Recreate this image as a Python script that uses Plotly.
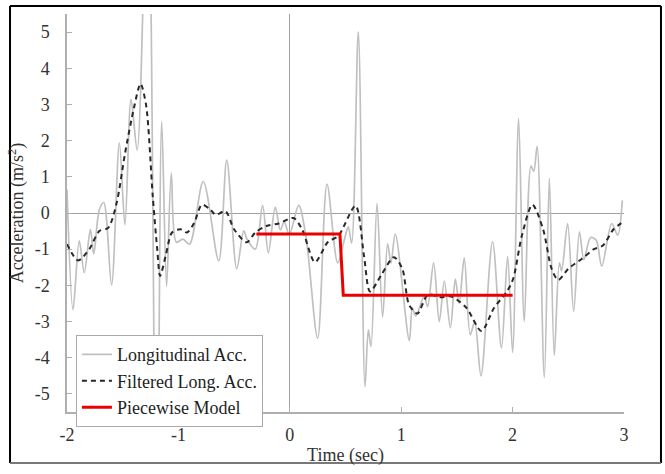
import plotly.graph_objects as go

# Raw longitudinal acceleration (sec, m/s^2)
raw_t = [-2.0, -1.946, -1.89, -1.845, -1.79, -1.76, -1.71, -1.67, -1.60, -1.53,
         -1.48, -1.425, -1.37, -1.275, -1.195, -1.15, -1.106, -1.064, -1.018, -0.96,
         -0.90, -0.777, -0.638, -0.566, -0.476, -0.414, -0.385, -0.31, -0.244, -0.193,
         -0.13, -0.085, -0.05, -0.005, 0.08, 0.145, 0.25, 0.334, 0.43, 0.49,
         0.525, 0.555, 0.615, 0.675, 0.705, 0.729, 0.783, 0.833, 0.878, 0.908,
         0.947, 1.073, 1.10, 1.13, 1.207, 1.237, 1.291, 1.342, 1.387, 1.441,
         1.486, 1.52, 1.566, 1.62, 1.66, 1.716, 1.82, 1.90, 1.955, 2.0,
         2.054, 2.105, 2.165, 2.19, 2.22, 2.285, 2.33, 2.374, 2.42, 2.44,
         2.494, 2.548, 2.60, 2.64, 2.70, 2.75, 2.80, 2.89, 2.943, 2.985]
raw_a = [0.65, -2.67, -0.77, -1.65, -0.45, -1.13, 0.09, 0.29, -1.99, 1.94,
         -0.33, 3.14, 1.74, 10.0, -10.0, 2.53, -2.03, 1.1, -0.81, -0.72,
         -0.86, 0.87, -1.32, 1.46, -1.54, -0.49, -0.72, -1.0, 0.21, -1.1,
         0.16, -0.47, -0.24, -0.6, 0.21, -0.65, -3.46, 0.8, -1.38, -0.74,
         -0.38, -0.83, 5.01, -4.8, -3.23, -3.69, 0.27, -2.87, -0.85, -1.38,
         -0.58, -3.53, -2.62, -2.85, -2.3, -2.59, -1.38, -3.0, -1.88, -3.17,
         -1.83, -2.5, -1.24, -3.37, -3.0, -4.5, -0.79, -3.73, -1.2, -3.85,
         2.61, -3.0, 1.3, 1.15, 1.84, -4.55, 0.96, -3.93, -1.38, -1.6,
         -0.29, -2.72, -0.52, -1.29, -0.68, -0.75, -1.47, -0.29, -0.61, 0.35]

# Low-pass filtered longitudinal acceleration
filt_t = [-2.0, -1.9, -1.80, -1.71, -1.63, -1.555, -1.48, -1.40, -1.34, -1.29,
          -1.23, -1.19, -1.164, -1.114, -1.057, -0.98, -0.923, -0.858, -0.789, -0.712,
          -0.666, -0.578, -0.50, -0.387, -0.31, -0.21, -0.10, 0.034, 0.11, 0.226,
          0.34, 0.436, 0.59, 0.666, 0.72, 0.82, 0.934, 1.01, 1.07, 1.145,
          1.24, 1.355, 1.45, 1.585, 1.72, 1.834, 1.95, 2.006, 2.083, 2.178,
          2.274, 2.35, 2.41, 2.50, 2.62, 2.73, 2.81, 2.906, 3.0]
filt_a = [-0.86, -1.31, -1.0, -0.5, -0.41, 0.27, 1.63, 2.89, 3.57, 2.98,
          0.45, -1.0, -1.74, -1.18, -0.54, -0.45, -0.54, -0.27, 0.23, 0.09,
          -0.05, 0.05, -0.45, -0.81, -0.54, -0.36, -0.29, -0.14, -0.45, -1.36,
          -0.81, -0.63, 0.2, -1.18, -2.17, -1.72, -1.22, -1.54, -2.53, -2.78,
          -2.26, -2.33, -2.31, -2.62, -3.26, -2.62, -2.17, -1.81, -0.63, 0.23,
          -0.45, -1.54, -1.85, -1.54, -1.27, -1.0, -0.9, -0.45, -0.23]

# Two-level piecewise model
model_t = [-0.3, 0.45, 0.48, 2.0]
model_a = [-0.58, -0.58, -2.27, -2.27]

x_ticks = [-2, -1, 0, 1, 2, 3]
y_ticks = [-5, -4, -3, -2, -1, 0, 1, 2, 3, 4, 5]

serif = "Liberation Serif"

fig = go.Figure()
fig.add_trace(go.Scatter(
    x=raw_t, y=raw_a, mode="lines", name="Longitudinal Acc.",
    line=dict(color="rgb(192,192,192)", width=1.7, shape="spline", smoothing=0.9),
))
fig.add_trace(go.Scatter(
    x=filt_t, y=filt_a, mode="lines", name="Filtered Long. Acc.",
    line=dict(color="rgb(40,40,40)", width=2, dash="5px,4px", shape="spline", smoothing=0.8),
))
fig.add_trace(go.Scatter(
    x=model_t, y=model_a, mode="lines", name="Piecewise Model",
    line=dict(color="rgb(235,0,0)", width=3),
))

# Outer picture frame
frame = [
    dict(x0=-0.1023, x1=1.0664, y0=1.0198, y1=1.0198, color="black", width=2),
    dict(x0=-0.1023, x1=-0.1023, y0=-0.128, y1=1.0198, color="black", width=2),
    dict(x0=1.0664, x1=1.0664, y0=-0.128, y1=1.0198, color="black", width=2),
    dict(x0=-0.1023, x1=1.0664, y0=-0.128, y1=-0.128, color="rgb(120,120,120)", width=2),
]
for f in frame:
    fig.add_shape(type="line", xref="paper", yref="paper",
                  x0=f["x0"], x1=f["x1"], y0=f["y0"], y1=f["y1"],
                  line=dict(color=f["color"], width=f["width"]))

axis_common = dict(
    showgrid=False, zeroline=True, zerolinecolor="rgb(160,160,160)", zerolinewidth=1,
    showline=True, linecolor="rgb(175,175,175)", linewidth=1.5, mirror=False,
    ticks="inside", ticklen=5, tickcolor="rgb(175,175,175)",
    tickfont=dict(family=serif, size=18, color="rgb(50,50,50)"),
)

fig.update_layout(
    width=665, height=474,
    margin=dict(l=67, r=41, t=14, b=55),
    paper_bgcolor="white", plot_bgcolor="white",
    font=dict(family=serif, color="rgb(50,50,50)"),
    xaxis=dict(range=[-2, 3], tickvals=x_ticks, ticktext=[str(v) for v in x_ticks],
               title=dict(text="Time (sec)", font=dict(family=serif, size=18), standoff=4),
               ticklabelstandoff=6, **axis_common),
    yaxis=dict(range=[-5.5, 5.5], tickvals=y_ticks, ticktext=[str(v) for v in y_ticks],
               title=dict(text="Acceleration (m/s<sup>2</sup>)", font=dict(family=serif, size=18),
                          standoff=6),
               ticklabelstandoff=12, **axis_common),
    showlegend=True,
    legend=dict(
        x=0.016, y=0.193, xanchor="left", yanchor="top",
        bgcolor="white", bordercolor="rgb(170,170,170)", borderwidth=1,
        font=dict(family=serif, size=18, color="rgb(30,30,30)"),
        itemwidth=30, tracegroupgap=0,
    ),
)

fig.write_html("out.html")
